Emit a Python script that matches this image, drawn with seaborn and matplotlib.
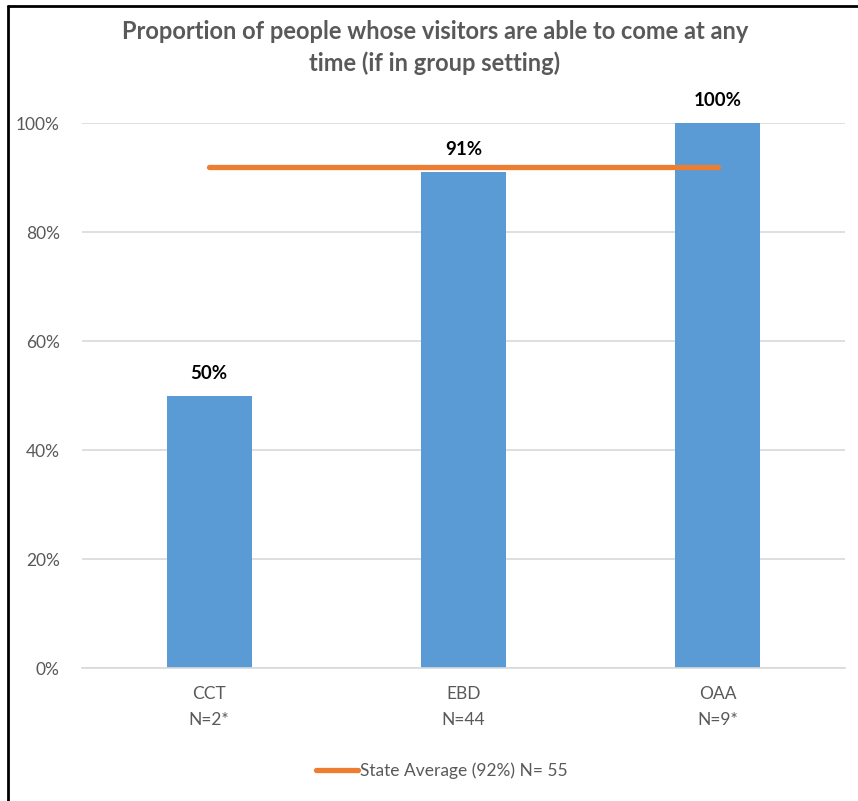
import matplotlib
matplotlib.use("Agg")
import matplotlib.pyplot as plt
import seaborn as sns
import pandas as pd
import numpy as np
from matplotlib.lines import Line2D

categories = ["CCT", "EBD", "OAA"]
sample_sizes = ["N=2*", "N=44", "N=9*"]
values = [0.50, 0.91, 1.00]
state_avg = 0.92
state_label = "State Average (92%) N= 55"
title = "Proportion of people whose visitors are able to come at any\ntime (if in group setting)"

sns.set_theme(style="white")
plt.rcParams["font.family"] = ["Lato", "DejaVu Sans"]

df = pd.DataFrame({"cat": categories, "val": values})

fig = plt.figure(figsize=(8.58, 8.01), dpi=100)
ax = fig.add_axes([0.0956, 0.166, 0.889, 0.6804])

sns.barplot(data=df, x="cat", y="val", color="#5B9BD5", saturation=1,
            width=0.335, ax=ax, zorder=2, linewidth=0)

xs = np.arange(len(categories))
ax.plot(xs[[0, -1]], [state_avg, state_avg], color="#ED7D31", lw=3.8,
        solid_capstyle="round", zorder=3)

for x, v in zip(xs, values):
    bbox = dict(facecolor="white", edgecolor="none", pad=1) if 0.85 < v < state_avg else None
    ax.text(x, v + 0.025, f"{v:.0%}", ha="center", va="bottom", fontsize=13.5,
            fontweight="bold", color="black", bbox=bbox, zorder=4)

ax.set_xlim(-0.5, len(categories) - 0.5)
ax.set_ylim(0, 1.0)
ax.set_yticks(np.arange(0, 1.01, 0.2))
ax.set_yticklabels([f"{t:.0%}" for t in np.arange(0, 1.01, 0.2)])
ax.set_xticks(xs)
ax.set_xticklabels([f"{c}\n{n}" for c, n in zip(categories, sample_sizes)], linespacing=1.75)
ax.tick_params(axis="both", colors="#595959", labelsize=12.5, length=0)
ax.tick_params(axis="x", pad=13)
ax.tick_params(axis="y", pad=16)
ax.set_xlabel("")
ax.set_ylabel("")
ax.yaxis.grid(True, color="#D9D9D9", lw=1.2, zorder=0)
ax.set_axisbelow(True)
for s in ["top", "right", "left"]:
    ax.spines[s].set_visible(False)
ax.spines["bottom"].set_color("#D9D9D9")
ax.spines["bottom"].set_linewidth(1.2)

fig.text(0.507, 0.975, title, ha="center", va="top", fontsize=17,
         fontweight="bold", color="#595959", linespacing=1.45)

handle = Line2D([0], [0], color="#ED7D31", lw=3.8, solid_capstyle="round")
fig.legend([handle], [state_label], loc="center", bbox_to_anchor=(0.515, 0.038),
           frameon=False, fontsize=12.5, handlelength=2.4, handletextpad=0.1,
           labelcolor="#595959")

fig.add_artist(Line2D([0.009, 0.009], [0, 0.993], color="black", lw=2, transform=fig.transFigure))
fig.add_artist(Line2D([0.009, 1.0], [0.993, 0.993], color="black", lw=2, transform=fig.transFigure))

fig.savefig("out.png", dpi=100)
